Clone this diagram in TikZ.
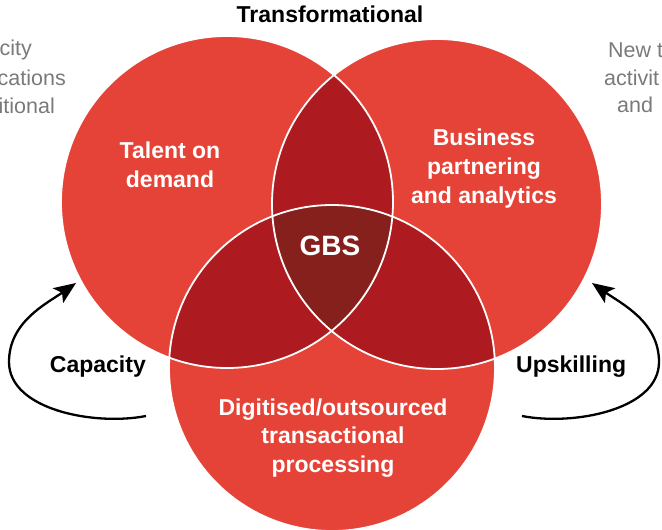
\documentclass[tikz,border=0pt]{standalone}
\usepackage{fontspec}
\setmainfont{Liberation Sans}
\usetikzlibrary{arrows.meta}
\definecolor{redA}{HTML}{E54337}
\definecolor{redB}{HTML}{AD1A1F}
\definecolor{redC}{HTML}{85201C}
\definecolor{greyT}{HTML}{7A7A7A}
\begin{document}
\begin{tikzpicture}[x=1pt,y=-1pt,
  wlabel/.style={text=white,font=\bfseries\fontsize{23}{28.8}\selectfont,align=center,inner sep=0pt},
  blabel/.style={text=black,font=\bfseries\fontsize{23}{28.8}\selectfont,inner sep=0pt},
  glabel/.style={text=greyT,font=\fontsize{21.5}{28}\selectfont,inner sep=0pt},
  looparrow/.style={line width=2.3pt,-{Stealth[length=22pt,width=18pt,inset=5pt]}},
  ring/.style={draw=white,line width=1.8pt}]
\useasboundingbox (0,0) rectangle (662,530);
\clip (0,0) rectangle (662,530);
\coordinate (L) at (227,202);
\coordinate (R) at (437,204);
\coordinate (B) at (332,368);
\def\rL{166pt}\def\rR{165pt}\def\rB{163pt}
% base circles
\fill[redA] (L) circle[radius=\rL];
\fill[redA] (R) circle[radius=\rR];
\fill[redA] (B) circle[radius=\rB];
% pairwise overlaps
\begin{scope}
  \clip (L) circle[radius=\rL];
  \fill[redB] (R) circle[radius=\rR];
  \fill[redB] (B) circle[radius=\rB];
\end{scope}
\begin{scope}
  \clip (R) circle[radius=\rR];
  \fill[redB] (B) circle[radius=\rB];
\end{scope}
% triple overlap
\begin{scope}
  \clip (L) circle[radius=\rL];
  \clip (R) circle[radius=\rR];
  \fill[redC] (B) circle[radius=\rB];
\end{scope}
% white outlines
\draw[ring] (L) circle[radius=\rL];
\draw[ring] (R) circle[radius=\rR];
\draw[ring] (B) circle[radius=\rB];
% labels
\node[blabel,anchor=base] (trans) at (330,22) {Transformational};
\node[wlabel] (talent) at (170,165) {Talent on\\demand};
\node[wlabel] (business) at (484,168.5) {Business\\partnering\\and analytics};
\node[wlabel] (digit) at (333,438) {Digitised/outsourced\\transactional\\processing};
\node[text=white,font=\bfseries\fontsize{28}{32}\selectfont,inner sep=0pt] (gbs) at (330,246) {GBS};
\node[blabel,anchor=base east] (cap) at (146,372) {Capacity};
\node[blabel,anchor=base west] (up) at (516,372) {Upskilling};
% grey clipped texts
\node[glabel,anchor=base east] (gl1) at (32,55) {city};
\node[glabel,anchor=base east] (gl2) at (66,85) {cations};
\node[glabel,anchor=base east] (gl3) at (55,113) {itional};
\node[glabel,anchor=base west] (gr1) at (608,57) {New t};
\node[glabel,anchor=base west] (gr2) at (604,85) {activit};
\node[glabel,anchor=base west] (gr3) at (617,112) {and};
% loop arrows
\coordinate (capS) at (146,416);
\coordinate (capM) at (9,362);
\coordinate (capE) at (76,283);
\coordinate (upS) at (522,416);
\coordinate (upM) at (659,362);
\coordinate (upE) at (592,283);
\draw[looparrow] (capS) .. controls (95,426) and (9,410) .. (capM) .. controls (9,322) and (46,304) .. (capE);
\draw[looparrow] (upS) .. controls (573,426) and (659,410) .. (upM) .. controls (659,322) and (622,304) .. (upE);
\end{tikzpicture}
\end{document}
